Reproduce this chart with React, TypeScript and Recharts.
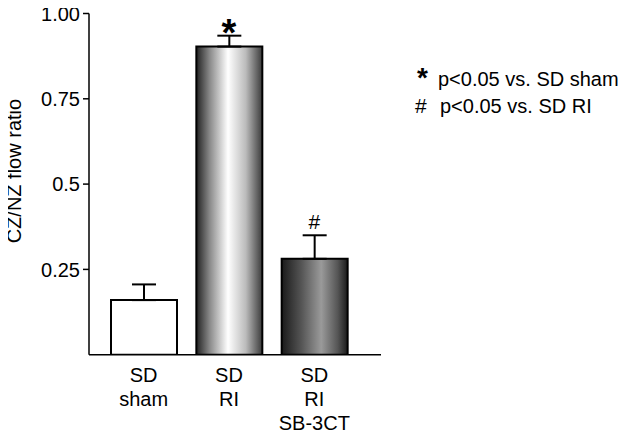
import React from 'react';
import { ComposedChart, Bar, Cell, XAxis, YAxis, ErrorBar, Scatter } from 'recharts';

const categories = ['sham', 'RI', 'SB'];
const categoryLines = [['SD', 'sham'], ['SD', 'RI'], ['SD', 'RI', 'SB-3CT']];
const ratioValues = [0.16, 0.903, 0.281];
const ratioErrors = [0.046, 0.032, 0.069];
const sigMarks = ['', '*', '#'];
const yTicks = [0.25, 0.5, 0.75, 1.0];
const yTickLabels = ['0.25', '0.5', '0.75', '1.00'];
const yAxisTitle = 'CZ/NZ flow ratio';
const legendItems = [
  { mark: '*', text: 'p<0.05 vs. SD sham' },
  { mark: '#', text: 'p<0.05 vs. SD RI' },
];

const data = categories.map((c, i) => ({
  cat: c,
  value: ratioValues[i],
  err: [0, ratioErrors[i]],
  sigY: ratioValues[i] + ratioErrors[i],
  sig: sigMarks[i],
}));

const FONT = '"Liberation Sans", Arial, Helvetica, sans-serif';
const fills = ['#ffffff', 'url(#gradRI)', 'url(#gradSB)'];

const XTick = (props: any) => {
  const { x, y, payload } = props;
  const lines = categoryLines[payload.index] || [];
  return (
    <g>
      {lines.map((l, i) => (
        <text key={i} x={x} y={y + 27 + i * 24} textAnchor="middle" fontSize={20} fontFamily={FONT} fill="#000">
          {l}
        </text>
      ))}
    </g>
  );
};

const SigShape = (props: any) => {
  const { cx, cy, payload } = props;
  if (!payload || !payload.sig) return <g />;
  if (payload.sig === '*') {
    return (
      <text x={cx} y={cy + 10} textAnchor="middle" fontSize={38} fontWeight="bold" fontFamily={FONT} fill="#000">
        *
      </text>
    );
  }
  return (
    <text x={cx} y={cy - 6} textAnchor="middle" fontSize={21} fontFamily={FONT} fill="#000">
      {payload.sig}
    </text>
  );
};

const YTitle = (props: any) => {
  const vb = props.viewBox || { x: 0, y: 0, width: 0, height: 0 };
  const cx = vb.x + 13.5;
  const cy = vb.y + vb.height / 2 - 13;
  return (
    <text
      x={cx}
      y={cy}
      transform={`rotate(-90 ${cx} ${cy})`}
      textAnchor="middle"
      fontSize={20}
      fontFamily={FONT}
      fill="#000"
    >
      {yAxisTitle}
    </text>
  );
};

export default function App() {
  return (
    <div style={{ position: 'relative', left: -8, top: -8, width: 628, height: 437, fontFamily: FONT }}>
      <ComposedChart
        width={628}
        height={437}
        data={data}
        margin={{ top: 13.5, right: 247, bottom: 22.3, left: 8 }}
      >
        <defs>
          <linearGradient id="gradRI" x1="0" y1="0" x2="1" y2="0">
            <stop offset="0%" stopColor="#222222" />
            <stop offset="20%" stopColor="#888888" />
            <stop offset="48%" stopColor="#ffffff" />
            <stop offset="75%" stopColor="#bbbbbb" />
            <stop offset="100%" stopColor="#3a3a3a" />
          </linearGradient>
          <linearGradient id="gradSB" x1="0" y1="0" x2="1" y2="0">
            <stop offset="0%" stopColor="#1a1a1a" />
            <stop offset="30%" stopColor="#555555" />
            <stop offset="60%" stopColor="#9a9a9a" />
            <stop offset="85%" stopColor="#555555" />
            <stop offset="100%" stopColor="#1a1a1a" />
          </linearGradient>
        </defs>
        <XAxis
          dataKey="cat"
          type="category"
          height={60}
          padding={{ left: 12, right: 24 }}
          axisLine={{ stroke: '#000', strokeWidth: 1.5 }}
          tickLine={false}
          tickSize={0}
          tickMargin={0}
          tick={<XTick />}
          interval={0}
        />
        <YAxis
          type="number"
          domain={[0, 1]}
          ticks={yTicks}
          width={81}
          allowDataOverflow
          axisLine={{ stroke: '#000', strokeWidth: 1.5 }}
          tickLine={{ stroke: '#000', strokeWidth: 1.5 }}
          tickSize={6}
          tickMargin={3}
          tick={{ fontSize: 20, fill: '#000', fontFamily: FONT }}
          tickFormatter={(v: number) => yTickLabels[yTicks.indexOf(v)] ?? String(v)}
          label={{ content: <YTitle /> }}
        />
        <Bar dataKey="value" barSize={66} isAnimationActive={false} stroke="#000" strokeWidth={2}>
          {data.map((d, i) => (
            <Cell key={d.cat} fill={fills[i]} />
          ))}
          <ErrorBar dataKey="err" width={12} stroke="#000" strokeWidth={2} direction="y" />
        </Bar>
        <Scatter dataKey="sigY" isAnimationActive={false} shape={<SigShape />} />
      </ComposedChart>
      <svg width={628} height={437} style={{ position: 'absolute', left: 0, top: 0, pointerEvents: 'none' }}>
        <text x={417} y={87} fontSize={28} fontWeight="bold" fontFamily={FONT} fill="#000">{legendItems[0].mark}</text>
        <text x={438} y={86} fontSize={20} fontFamily={FONT} fill="#000">{legendItems[0].text}</text>
        <text x={415} y={113} fontSize={21} fontFamily={FONT} fill="#000">{legendItems[1].mark}</text>
        <text x={440} y={113} fontSize={20} fontFamily={FONT} fill="#000">{legendItems[1].text}</text>
      </svg>
    </div>
  );
}
